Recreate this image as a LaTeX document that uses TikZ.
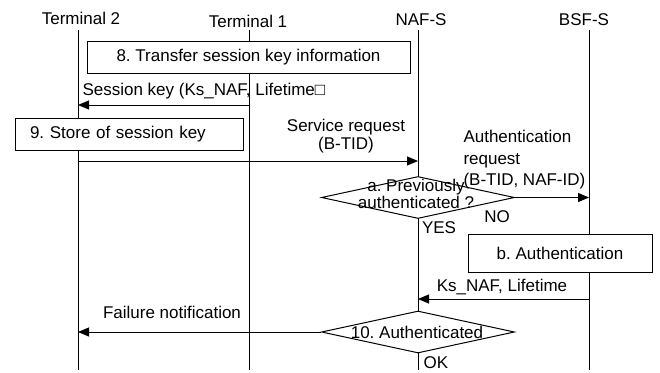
\documentclass[tikz,border=0pt]{standalone}
\usepackage{fontspec}
\setmainfont{Liberation Sans}
\usetikzlibrary{arrows.meta,shapes.geometric}
\frenchspacing
\begin{document}
\begin{tikzpicture}[x=1pt,y=-1pt,
  font=\fontsize{17}{19}\selectfont\frenchspacing,
  line width=1pt,
  lbl/.style={inner sep=0pt},
  boxnode/.style={draw,fill=white,inner sep=0pt},
  msg/.style={-{Triangle[length=11pt,width=9pt]}},
  dia/.style={draw,fill=white,diamond,inner sep=0pt,minimum width=193pt,minimum height=42pt}]
\useasboundingbox (0,0) rectangle (660,372);

% titles
\node[lbl] (ht2) at (81,18) {Terminal 2};
\node[lbl] (ht1) at (248,21) {Terminal 1};
\node[lbl] (hnaf) at (421,20) {NAF-S};
\node[lbl] (hbsf) at (584,20) {BSF-S};

% lifelines
\coordinate (t2top) at (78,30);  \coordinate (t2bot) at (78,370);
\coordinate (t1top) at (249,30); \coordinate (t1bot) at (249,370);
\coordinate (naftop) at (418,30); \coordinate (nafbot) at (418,370);
\coordinate (bsftop) at (589,30); \coordinate (bsfbot) at (589,370);
\draw (t2top) -- (t2bot);
\draw (t1top) -- (t1bot);
\draw (naftop) -- (nafbot);
\draw (bsftop) -- (bsfbot);

% box 8
\node[boxnode,minimum width=323pt,minimum height=32pt] (b8) at (248.5,57) {8. Transfer session key information};

% session key
\coordinate (sk1) at (249,105); \coordinate (sk2) at (78,105);
\draw[msg] (sk1) -- (sk2);
\node[lbl,anchor=west] (lsk) at (82,91) {Session key (Ks\_NAF, Lifetime□};

% box 9
\node[boxnode,minimum width=228pt,minimum height=32pt,inner xsep=15pt,text width=198pt,align=left] (b9) at (129,134) {9. Store of session key};

% service request
\coordinate (sr1) at (78,161); \coordinate (sr2) at (418,161);
\draw[msg] (sr1) -- (sr2);
\node[lbl,align=center,font=\fontsize{17}{18}\selectfont] (lsr) at (346,136) {Service request\\(B-TID)};

% diamond a
\node[dia] (da) at (418,197.5) {};
\node[lbl,align=center,font=\fontsize{17}{12}\selectfont] (lda) at (416,194) {a. Previously\\authenticated ?};

% auth request
\coordinate (ar2) at (589,197.5);
\draw[msg] (da.east) -- (ar2);
\node[lbl,anchor=west,align=left,font=\fontsize{17}{21.5}\selectfont] (lar) at (463,160) {Authentication\\request\\(B-TID, NAF-ID)};
\node[lbl] (lno) at (497,217) {NO};
\node[lbl] (lyes) at (439,228) {YES};

% box b
\node[boxnode,minimum width=184pt,minimum height=38pt] (bb) at (560,253) {b. Authentication};

% Ks_NAF
\coordinate (ks1) at (589,299); \coordinate (ks2) at (418,299);
\draw[msg] (ks1) -- (ks2);
\node[lbl] (lks) at (502,287) {Ks\_NAF, Lifetime};

% diamond 10
\node[dia] (d10) at (418,332) {};
\node[lbl] (ld10) at (417,332) {10. Authenticated};
\coordinate (fn2) at (78,332);
\draw[msg] (d10.west) -- (fn2);
\node[lbl] (lfn) at (172,312) {Failure notification};
\node[lbl] (lok) at (436,363) {OK};
\end{tikzpicture}
\end{document}
